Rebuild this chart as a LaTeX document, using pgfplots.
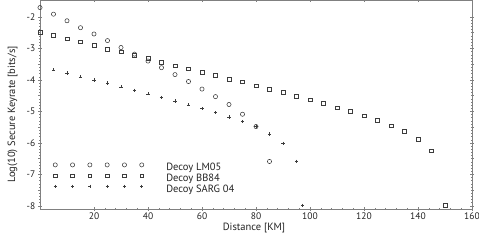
\documentclass[border=0pt]{standalone}
\usepackage{pgfplots}
\pgfplotsset{compat=1.18}
\usepackage{fontspec}
\setmainfont{PT Sans}
\definecolor{axgray}{RGB}{128,128,128}
\definecolor{markc}{RGB}{60,60,60}
\definecolor{txt}{RGB}{35,35,35}
\pgfplotstableread{
x y
0 -1.70
5 -1.91
10 -2.12
15 -2.34
20 -2.54
25 -2.75
30 -2.97
35 -3.18
40 -3.40
45 -3.61
50 -3.83
55 -4.05
60 -4.29
65 -4.53
70 -4.78
75 -5.09
80 -5.48
85 -6.59
}\lmdata
\pgfplotstableread{
x y
0 -2.48
5 -2.58
10 -2.69
15 -2.79
20 -2.90
25 -3.02
30 -3.11
35 -3.22
40 -3.32
45 -3.43
50 -3.55
55 -3.65
60 -3.75
65 -3.86
70 -3.98
75 -4.06
80 -4.18
85 -4.30
90 -4.40
95 -4.52
100 -4.63
105 -4.75
110 -4.88
115 -4.99
120 -5.14
125 -5.29
130 -5.45
135 -5.64
140 -5.88
145 -6.25
150 -7.99
}\bbdata
\pgfplotstableread{
x y
5 -3.68
10 -3.78
15 -3.90
20 -4.00
25 -4.10
30 -4.22
35 -4.33
40 -4.44
45 -4.56
50 -4.67
55 -4.79
60 -4.91
65 -5.04
70 -5.18
75 -5.32
80 -5.48
85 -5.72
90 -6.01
95 -6.58
97.3 -7.98
}\sargdata
\pgfplotsset{
  legmarks/.style={legend image code/.code={
    \draw[##1,only marks] plot coordinates {(0pt,3.3pt) (17.3pt,3.3pt) (34.6pt,3.3pt) (51.9pt,3.3pt) (69.2pt,3.3pt) (86.5pt,3.3pt)};}},
}
\begin{document}
\begin{tikzpicture}
\begin{axis}[
  scale only axis, width=432pt, height=209pt,
  xmin=0, xmax=160, ymin=-8.1, ymax=-1.46,
  xtick={20,40,...,160}, ytick={-8,-7,...,-2},
  minor x tick num=4, minor y tick num=9,
  extra y ticks={-7.5,-6.5,-5.5,-4.5,-3.5,-2.5}, extra y tick labels={},
  extra y tick style={major tick length=3pt},
  tick align=center, major tick length=3.5pt, minor tick length=1.6pt,
  every tick/.style={axgray, line width=0.5pt},
  axis line style={axgray, line width=0.9pt},
  /pgf/number format/assume math mode=true,
  ticklabel style={font=\fontsize{9.5}{11}\selectfont, text=txt},
  xticklabel style={yshift=1.5pt},
  yticklabel style={xshift=0.5pt},
  xlabel={Distance [KM]}, ylabel={Log(10) Secure Keyrate [bits/s]},
  label style={font=\fontsize{10.5}{12}\selectfont, text=txt},
  xlabel style={yshift=3pt, xshift=-2pt},
  ylabel style={yshift=-1pt, xshift=-10pt},
  legend style={draw=none, fill=none, inner sep=0pt, at={(0.030,0.222)}, anchor=north west,
    font=\fontsize{10.5}{12}\selectfont, text=txt,
    nodes={inner sep=0.5pt, text height=7.5pt, text depth=2.2pt},
    row sep=0pt,
    /tikz/every odd column/.append style={column sep=22pt}},
  legend cell align=left,
  mark options={solid, markc, line width=0.55pt},
]
\addplot[only marks, mark=o, mark size=2.1pt, markc, legmarks] table {\lmdata};
\addlegendentry{Decoy LM05}
\addplot[only marks, mark=square, mark size=1.8pt, markc, legmarks] table {\bbdata};
\addlegendentry{Decoy BB84}
\addplot[only marks, mark=+, mark size=1.6pt, markc, legmarks] table {\sargdata};
\addlegendentry{Decoy SARG 04}
\coordinate (bl) at (rel axis cs:0,0);
\coordinate (tr) at (rel axis cs:1,1);
\end{axis}
\pgfresetboundingbox
\path[use as bounding box] ([shift={(-40pt,-34pt)}]bl) rectangle ([shift={(7pt,0pt)}]tr);
\end{tikzpicture}
\end{document}
